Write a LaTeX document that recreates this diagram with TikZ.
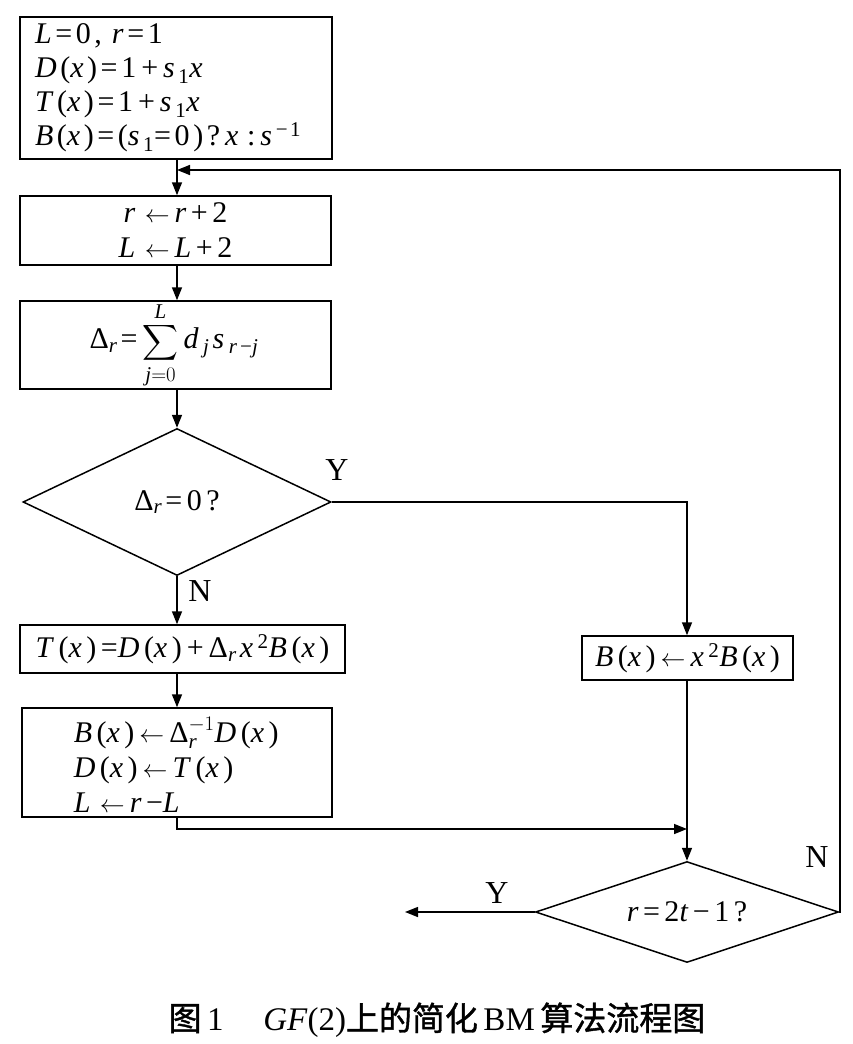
\documentclass[tikz,border=0pt]{standalone}
\usepackage{amsmath}
\usepackage{fontspec}
\setmainfont{Liberation Serif}
\newfontfamily\cjk{Noto Sans CJK SC}[FakeBold=1.2]
\usetikzlibrary{arrows.meta,shapes.geometric}
\newcommand\vi[1]{\textit{#1}}
\newcommand\sbs[1]{\textsubscript{#1}}
\newcommand\sps[1]{\textsuperscript{#1}}
\newcommand\la{\,$\leftarrow$\,}
\newcommand\bfont{\fontsize{30}{35}\selectfont\addfontfeature{LetterSpace=15}}
\newcommand\afont{\fontsize{30}{34}\selectfont\addfontfeature{LetterSpace=12}}
\begin{document}
\begin{tikzpicture}[x=1pt,y=-1pt,
  line width=1.5pt,
  arr/.style={-{Triangle[length=13pt,width=10pt]}},
  box/.style={draw,rectangle,inner sep=0pt,font=\bfont},
  dec/.style={draw,diamond,aspect=3,inner sep=0pt,font=\bfont},
  lbl/.style={font=\fontsize{32}{36}\selectfont,inner sep=0pt}]
\useasboundingbox (0,0) rectangle (852,1044);
% boxes
\node[box,font=\afont,minimum width=312pt,minimum height=142pt,text width=282pt,align=left] (b1) at (176,88)
  {\vi{L}=0, \vi{r}=1\\
   \vi{D}(\vi{x})=1\,+\,\vi{s}\sbs{1}\vi{x}\\
   \vi{T}(\vi{x})=1\,+\,\vi{s}\sbs{1}\vi{x}\\
   \vi{B}(\vi{x})=(\vi{s}\sbs{1}=0)?\,\vi{x}\,:\,\vi{s}\sps{−1}};
\node[box,minimum width=311pt,minimum height=69pt,align=center] (b2) at (175.5,230.5)
  {\vi{r}\la\vi{r}+2\\ \vi{L}\la\vi{L}+2};
\node[box,minimum width=311pt,minimum height=88pt] (b3) at (175.5,345)
  {Δ\sbs{\vi{r}}=\,\raisebox{-1pt}{$\displaystyle\sum\limits_{\text{\itshape j}=0}^{\text{\itshape L}}$}\,\vi{d}\sbs{\vi{j}}\vi{s}\sbs{\vi{r}−\vi{j}}};
\node[dec,minimum width=308pt,minimum height=147pt] (d1) at (177,502)
  {Δ\sbs{\vi{r}}=0?};
\node[box,minimum width=325pt,minimum height=48pt] (b4) at (182.5,649)
  {\vi{T}(\vi{x})=\vi{D}(\vi{x})\,+\,Δ\sbs{\vi{r}}\vi{x}\sps{2}\vi{B}(\vi{x})};
\node[box,minimum width=310pt,minimum height=109pt] (b5) at (177,762.5) {};
\node[anchor=west,align=left,inner sep=0pt,font=\bfont] (t5) at (73,765)
  {\vi{B}(\vi{x})\la$\text{Δ}^{-1}_{\text{\itshape r}}$\vi{D}(\vi{x})\\
   \vi{D}(\vi{x})\la\vi{T}(\vi{x})\\
   \vi{L}\la\vi{r}−\vi{L}};
\node[box,minimum width=211pt,minimum height=44pt] (rb) at (687.5,658)
  {\vi{B}(\vi{x})\la\vi{x}\sps{2}\vi{B}(\vi{x})};
\node[dec,minimum width=303pt,minimum height=101pt] (d2) at (687,912)
  {\vi{r}=2\vi{t}−1?};
% labels
\node[lbl] (y1) at (337,470) {Y};
\node[lbl] (n1) at (200,591) {N};
\node[lbl] (y2) at (497,893) {Y};
\node[lbl] (n2) at (817,857) {N};
% helper coordinates
\coordinate (j1) at (177,170);
\coordinate (fb) at (840,170);
\coordinate (j2) at (687,829);
\coordinate (out) at (405,912);
% connectors
\draw[arr] (b1.south -| j1) -- (b2.north -| j1);
\draw[arr] (d2.east) -| (fb) -- (j1);
\draw[arr] (b2.south -| j1) -- (b3.north -| j1);
\draw[arr] (b3.south -| j1) -- (d1.north);
\draw[arr] (d1.east) -| (rb.north -| j2);
\draw[arr] (d1.south) -- (b4.north -| d1.south);
\draw[arr] (b4.south -| d1.south) -- (b5.north -| d1.south);
\draw[arr] (b5.south -| d1.south) |- (j2);
\draw[arr] (rb.south -| j2) -- (d2.north);
\draw[arr] (d2.west) -- (out);
% caption
\node[inner sep=0pt,font=\fontsize{33}{38}\selectfont] (cap) at (437,1020)
  {{\cjk 图}\,1\hspace{1.2em}\vi{GF}(2){\cjk 上的简化}\,BM\,{\cjk 算法流程图}};
\end{tikzpicture}
\end{document}
